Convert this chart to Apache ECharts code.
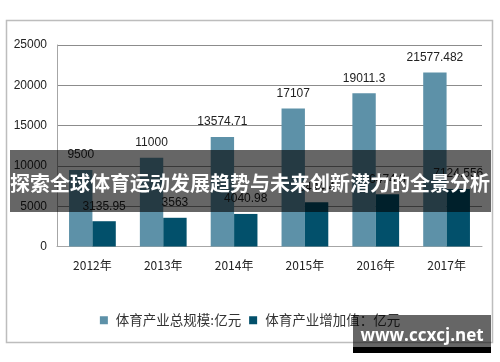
<!DOCTYPE html>
<html>
<head>
<meta charset="utf-8">
<script src="https://cdn.jsdelivr.net/npm/echarts@6/dist/echarts.min.js"></script>
<style>
html,body{margin:0;padding:0;background:#fff;}
#c{width:500px;height:362px;}
</style>
</head>
<body>
<div id="c"></div>
<script>
var categories = ['2012年', '2013年', '2014年', '2015年', '2016年', '2017年'];
var totalScale = [9500, 11000, 13574.71, 17107, 19011.3, 21577.482];
var addedValue = [3135.95, 3563, 4040.98, 5494.4, 6474.8, 7124.556];
var seriesNames = ['体育产业总规模:亿元', '体育产业增加值：亿元'];
var yTicks = { min: 0, max: 25000, interval: 5000 };
var bannerText = '探索全球体育运动发展趋势与未来创新潜力的全景分析';
var watermarkText = 'www.ccxcj.net';

var chart = echarts.init(document.getElementById('c'), null, { renderer: 'canvas' });
var font = '"Liberation Sans", Arial, sans-serif';
var cjk = '"Noto Sans CJK SC", "Liberation Sans", sans-serif';

function lbl(v) { return String(v); }

chart.setOption({
  animation: false,
  backgroundColor: '#ffffff',
  grid: { left: 57, right: 18, top: 45, bottom: 115.5, containLabel: false },
  legend: {
    bottom: 30,
    left: 'center',
    itemWidth: 8,
    itemHeight: 8,
    itemGap: 8,
    icon: 'rect',
    textStyle: { fontSize: 13.5, color: '#333', fontFamily: cjk, padding: [0, 0, 0, 3] },
    data: seriesNames
  },
  xAxis: {
    type: 'category',
    data: categories,
    axisLine: { show: true, lineStyle: { color: '#a6a6a6', width: 1 } },
    axisTick: { show: false },
    axisLabel: { color: '#222', fontSize: 12, fontFamily: cjk, margin: 13 }
  },
  yAxis: {
    type: 'value',
    min: yTicks.min, max: yTicks.max, interval: yTicks.interval,
    axisLine: { show: true, lineStyle: { color: '#a6a6a6', width: 1 } },
    axisTick: { show: false },
    splitLine: { lineStyle: { color: '#8c8c8c', width: 1 } },
    axisLabel: { color: '#222', fontSize: 12, fontFamily: font, margin: 10, formatter: function (v) { return String(v); } }
  },
  series: [
    {
      name: seriesNames[0], type: 'bar', data: totalScale,
      barWidth: '33%', barGap: '0%',
      itemStyle: { color: '#5d91a8' },
      label: { show: true, position: 'top', distance: 9, color: '#222', fontSize: 12, fontFamily: font, formatter: function (p) { return lbl(p.value); } }
    },
    {
      name: seriesNames[1], type: 'bar', data: addedValue,
      barWidth: '33%', barGap: '0%',
      itemStyle: { color: '#02506b' },
      label: { show: true, position: 'top', distance: 9, color: '#222', fontSize: 12, fontFamily: font, formatter: function (p) { return lbl(p.value); } }
    }
  ],
  graphic: [
    {
      type: 'rect', z: 0, silent: true,
      shape: { x: 6.5, y: 20.5, width: 486, height: 322 },
      style: { fill: 'none', stroke: '#bdbdbd', lineWidth: 1.5 }
    },
    {
      type: 'rect', z: 100, silent: true,
      shape: { x: 10, y: 150, width: 481, height: 62 },
      style: { fill: 'rgba(0,0,0,0.6)' }
    },
    {
      type: 'text', z: 101, silent: true,
      style: { x: 250, y: 183, text: bannerText, fill: '#fff', font: 'bold 20px "Noto Sans CJK SC", sans-serif', textAlign: 'center', textVerticalAlign: 'middle' }
    },
    {
      type: 'rect', z: 100, silent: true,
      shape: { x: 353, y: 315, width: 138, height: 32 },
      style: { fill: 'rgba(0,0,0,0.6)' }
    },
    {
      type: 'rect', z: 100, silent: true,
      shape: { x: 353, y: 347, width: 138, height: 6 },
      style: { fill: '#000' }
    },
    {
      type: 'text', z: 101, silent: true,
      style: { x: 422, y: 336, text: watermarkText, fill: '#fff', font: 'bold 17px "Open Sans", sans-serif', textAlign: 'center', textVerticalAlign: 'middle' }
    }
  ]
});
</script>
</body>
</html>
